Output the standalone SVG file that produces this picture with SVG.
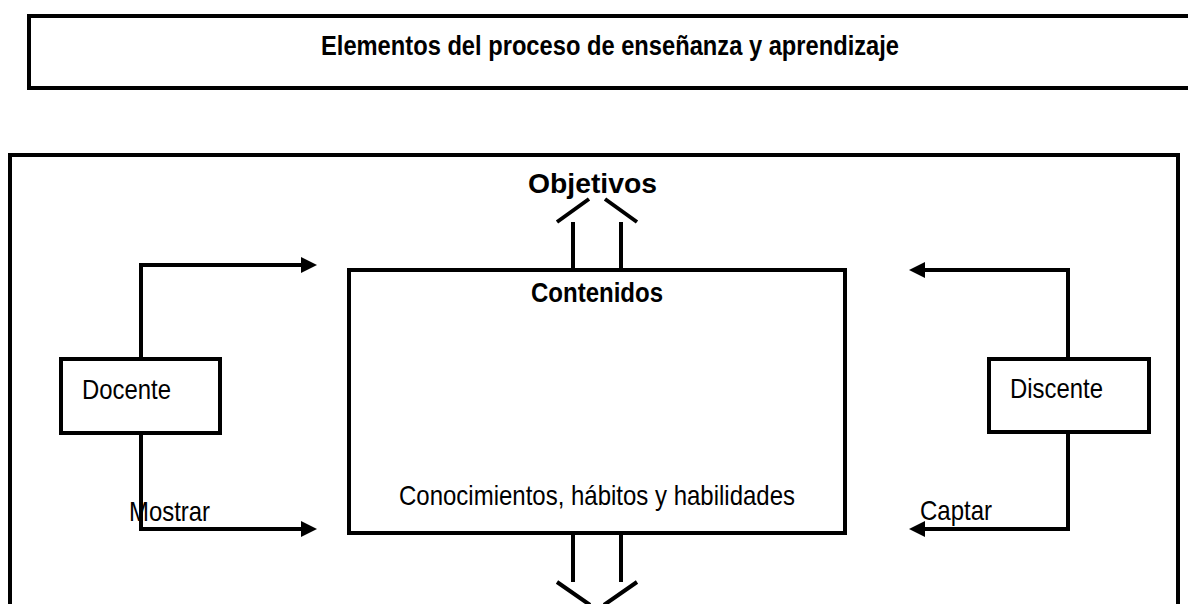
<svg xmlns="http://www.w3.org/2000/svg" width="1188" height="604" viewBox="0 0 1188 604">
<style>
.box{fill:#fff;stroke:#000;stroke-width:4}
.frame{fill:none;stroke:#000;stroke-width:4}
.ln{fill:none;stroke:#000;stroke-width:4}
.t{font-family:"Liberation Sans",Arial,sans-serif;font-size:28px;fill:#000}
.b{font-weight:bold}
</style>
<defs>
<marker id="ah" viewBox="0 0 16 16" refX="4" refY="8" markerWidth="16" markerHeight="16" markerUnits="userSpaceOnUse" orient="auto">
<path d="M0,0 L16,8 L0,16 z" fill="#000"/>
</marker>
</defs>
<rect width="1188" height="604" fill="#fff"/>
<g id="title">
<rect class="frame" x="29" y="16" width="1180" height="72"/>
<text class="t b" x="321" y="55" textLength="578" lengthAdjust="spacingAndGlyphs">Elementos del proceso de enseñanza y aprendizaje</text>
</g>
<g id="frame">
<rect class="frame" x="10" y="155" width="1168" height="470"/>
</g>
<g id="objetivos">
<text class="t b" x="528" y="193" textLength="129" lengthAdjust="spacingAndGlyphs">Objetivos</text>
</g>
<g id="contenidos">
<rect class="box" x="349" y="270" width="496" height="263"/>
<text class="t b" x="531" y="302" textLength="132" lengthAdjust="spacingAndGlyphs">Contenidos</text>
<text class="t" x="399" y="505" textLength="396" lengthAdjust="spacingAndGlyphs">Conocimientos, hábitos y habilidades</text>
</g>
<g id="docente">
<rect class="box" x="61" y="359" width="159" height="74"/>
<text class="t" x="82" y="399" textLength="89" lengthAdjust="spacingAndGlyphs">Docente</text>
</g>
<g id="discente">
<rect class="box" x="989" y="359" width="160" height="73"/>
<text class="t" x="1010" y="398" textLength="93" lengthAdjust="spacingAndGlyphs">Discente</text>
</g>
<g id="connectors">
<path class="ln" d="M573,269 V222 M621,269 V222 M557,222 L589,199 M605,199 L637,222"/>
<path class="ln" d="M573,533 V582 M621,533 V582 M557,582 L590,605 M637,582 L604,605"/>
<path class="ln" d="M141,359 V265 H305" marker-end="url(#ah)"/>
<path class="ln" d="M141,433 V529 H305" marker-end="url(#ah)"/>
<path class="ln" d="M1068,359 V270 H921" marker-end="url(#ah)"/>
<path class="ln" d="M1068,432 V529 H921" marker-end="url(#ah)"/>
<text class="t" x="129" y="521" textLength="81" lengthAdjust="spacingAndGlyphs">Mostrar</text>
<text class="t" x="920" y="520" textLength="72" lengthAdjust="spacingAndGlyphs">Captar</text>
</g>
</svg>
